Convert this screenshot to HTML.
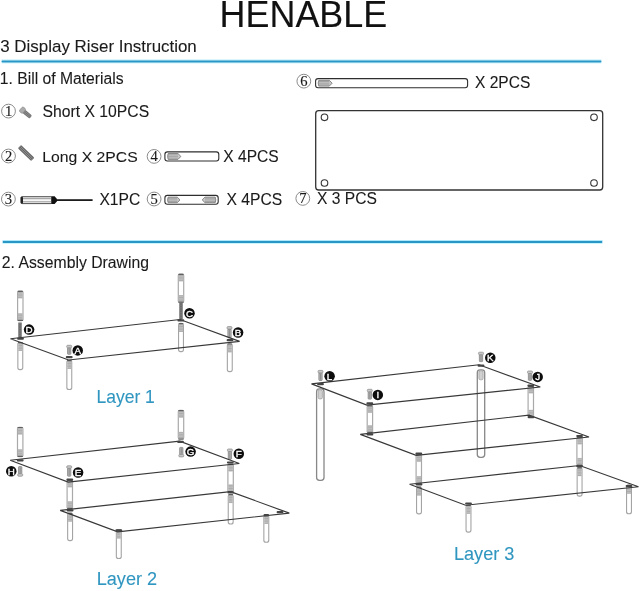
<!DOCTYPE html>
<html><head><meta charset="utf-8"><style>
html,body{margin:0;padding:0;background:#fff;width:640px;height:591px;overflow:hidden}
svg{display:block;will-change:transform}
text{font-family:"Liberation Sans",sans-serif}
</style></head><body>
<svg width="640" height="591" viewBox="0 0 640 591">
<text x="219.55" y="26.80" font-size="36.99" fill="#111" textLength="167.69" lengthAdjust="spacingAndGlyphs" stroke="#111" stroke-width="0.1">HENABLE</text>
<text x="0.26" y="51.60" font-size="16.21" fill="#1a1a1a" textLength="196.54" lengthAdjust="spacingAndGlyphs" stroke="#1a1a1a" stroke-width="0.1">3 Display Riser Instruction</text>
<rect x="1.5" y="59.60" width="600.0" height="1.0" fill="#a6e6fb"/>
<rect x="1.5" y="62.40" width="600.0" height="1.0" fill="#c4f5fd"/>
<rect x="1.5" y="60.60" width="600.0" height="1.8" rx="0.9" fill="#2a96c6"/>
<text x="-0.26" y="83.50" font-size="16.42" fill="#1a1a1a" textLength="123.82" lengthAdjust="spacingAndGlyphs" stroke="#1a1a1a" stroke-width="0.1">1. Bill of Materials</text>
<circle cx="8.50" cy="111.10" r="6.9" fill="none" stroke="#8a8a8a" stroke-width="1"/>
<text x="8.60" y="116.10" style="font-family:'Liberation Serif',serif" font-size="14.6" fill="#1a1a1a" stroke="#1a1a1a" stroke-width="0.15" text-anchor="middle">1</text>
<g transform="translate(25.4,112.6) rotate(40)"><rect x="-2.2" y="-2.1" width="9.2" height="4.2" rx="1.3" fill="#727272"/><line x1="-1.5" y1="-0.75" x2="6.4" y2="-0.75" stroke="#a0a0a0" stroke-width="0.55"/><line x1="-1.5" y1="0.8" x2="6.4" y2="0.8" stroke="#a0a0a0" stroke-width="0.55"/><rect x="-6.0" y="-3.0" width="4.4" height="6.0" rx="1.6" fill="#ababab" stroke="#858585" stroke-width="0.6"/></g>
<text x="42.49" y="116.70" font-size="16.13" fill="#1a1a1a" textLength="106.64" lengthAdjust="spacingAndGlyphs" stroke="#1a1a1a" stroke-width="0.1">Short X 10PCS</text>
<circle cx="8.50" cy="156.00" r="6.9" fill="none" stroke="#8a8a8a" stroke-width="1"/>
<text x="8.60" y="161.00" style="font-family:'Liberation Serif',serif" font-size="14.6" fill="#1a1a1a" stroke="#1a1a1a" stroke-width="0.15" text-anchor="middle">2</text>
<g transform="translate(26.1,153.0) rotate(44)"><rect x="-9.2" y="-2.3" width="18.4" height="4.6" rx="1" fill="#666"/><line x1="-8.6" y1="-0.75" x2="8.6" y2="-0.75" stroke="#aaa" stroke-width="0.6"/><line x1="-8.6" y1="0.85" x2="8.6" y2="0.85" stroke="#aaa" stroke-width="0.6"/></g>
<text x="42.31" y="161.50" font-size="15.41" fill="#1a1a1a" textLength="95.41" lengthAdjust="spacingAndGlyphs" stroke="#1a1a1a" stroke-width="0.1">Long X 2PCS</text>
<circle cx="154.10" cy="156.40" r="6.9" fill="none" stroke="#8a8a8a" stroke-width="1"/>
<text x="154.20" y="161.40" style="font-family:'Liberation Serif',serif" font-size="14.6" fill="#1a1a1a" stroke="#1a1a1a" stroke-width="0.15" text-anchor="middle">4</text>
<rect x="164.9" y="151.9" width="53.9" height="9.1" rx="2.5" fill="#fff" stroke="#2e2e2e" stroke-width="1.1"/>
<path d="M168.2,153.5 L177.95,153.5 L180.9,156.45 L177.95,159.4 L168.2,159.4 Q167.0,156.45 168.2,153.5 Z" fill="#c9c9c9" stroke="#6a6a6a" stroke-width="0.75"/>
<line x1="167.6" y1="154.8" x2="177.9" y2="154.8" stroke="#8c8c8c" stroke-width="0.6"/>
<line x1="167.6" y1="156.4" x2="177.9" y2="156.4" stroke="#8c8c8c" stroke-width="0.6"/>
<line x1="167.6" y1="158.1" x2="177.9" y2="158.1" stroke="#8c8c8c" stroke-width="0.6"/>
<text x="223.25" y="161.60" font-size="15.84" fill="#1a1a1a" textLength="55.47" lengthAdjust="spacingAndGlyphs" stroke="#1a1a1a" stroke-width="0.1">X 4PCS</text>
<circle cx="8.40" cy="199.10" r="6.9" fill="none" stroke="#8a8a8a" stroke-width="1"/>
<text x="8.50" y="204.10" style="font-family:'Liberation Serif',serif" font-size="14.6" fill="#1a1a1a" stroke="#1a1a1a" stroke-width="0.15" text-anchor="middle">3</text>
<rect x="21.2" y="196.7" width="30.6" height="6.9" rx="0.8" fill="#fff" stroke="#3a3a3a" stroke-width="0.9"/>
<rect x="22" y="197.7" width="29.5" height="1.6" fill="#a8a8a8"/><rect x="22" y="200.9" width="29.5" height="1.6" fill="#b4b4b4"/>
<rect x="20.6" y="196.8" width="2.4" height="6.7" rx="1" fill="#222"/>
<path d="M51.4,196.3 L54.6,196.3 L56.8,198.8 L56.8,201.4 L54.6,203.9 L51.4,203.9 Z" fill="#111"/>
<rect x="56" y="199.25" width="36.6" height="1.7" fill="#111"/>
<text x="99.45" y="204.80" font-size="15.84" fill="#1a1a1a" textLength="40.85" lengthAdjust="spacingAndGlyphs" stroke="#1a1a1a" stroke-width="0.1">X1PC</text>
<circle cx="154.10" cy="199.00" r="6.9" fill="none" stroke="#8a8a8a" stroke-width="1"/>
<text x="154.20" y="204.00" style="font-family:'Liberation Serif',serif" font-size="14.6" fill="#1a1a1a" stroke="#1a1a1a" stroke-width="0.15" text-anchor="middle">5</text>
<rect x="164.9" y="195.4" width="53.3" height="8.9" rx="2.5" fill="#fff" stroke="#2e2e2e" stroke-width="1.1"/>
<path d="M168.2,197.1 L177.2,197.1 L180.0,199.89999999999998 L177.2,202.7 L168.2,202.7 Q167.0,199.89999999999998 168.2,197.1 Z" fill="#c9c9c9" stroke="#6a6a6a" stroke-width="0.75"/>
<line x1="167.6" y1="198.3" x2="177.2" y2="198.3" stroke="#8c8c8c" stroke-width="0.6"/>
<line x1="167.6" y1="199.9" x2="177.2" y2="199.9" stroke="#8c8c8c" stroke-width="0.6"/>
<line x1="167.6" y1="201.5" x2="177.2" y2="201.5" stroke="#8c8c8c" stroke-width="0.6"/>
<path d="M215.20000000000002,197.1 L205.0,197.1 L202.2,199.89999999999998 L205.0,202.7 L215.20000000000002,202.7 Q216.4,199.89999999999998 215.20000000000002,197.1 Z" fill="#c9c9c9" stroke="#6a6a6a" stroke-width="0.75"/>
<line x1="205.0" y1="198.3" x2="215.8" y2="198.3" stroke="#8c8c8c" stroke-width="0.6"/>
<line x1="205.0" y1="199.9" x2="215.8" y2="199.9" stroke="#8c8c8c" stroke-width="0.6"/>
<line x1="205.0" y1="201.5" x2="215.8" y2="201.5" stroke="#8c8c8c" stroke-width="0.6"/>
<text x="226.55" y="205.00" font-size="15.99" fill="#1a1a1a" textLength="55.77" lengthAdjust="spacingAndGlyphs" stroke="#1a1a1a" stroke-width="0.1">X 4PCS</text>
<circle cx="303.85" cy="81.15" r="6.9" fill="none" stroke="#8a8a8a" stroke-width="1"/>
<text x="303.95" y="86.15" style="font-family:'Liberation Serif',serif" font-size="14.6" fill="#1a1a1a" stroke="#1a1a1a" stroke-width="0.15" text-anchor="middle">6</text>
<rect x="315.6" y="78.6" width="152.0" height="9.2" rx="2.5" fill="#fff" stroke="#2e2e2e" stroke-width="1.1"/>
<path d="M318.8,80.3 L329.3,80.3 L332.2,83.19999999999999 L329.3,86.1 L318.8,86.1 Q317.6,83.19999999999999 318.8,80.3 Z" fill="#c9c9c9" stroke="#6a6a6a" stroke-width="0.75"/>
<line x1="318.2" y1="81.5" x2="329.3" y2="81.5" stroke="#8c8c8c" stroke-width="0.6"/>
<line x1="318.2" y1="83.2" x2="329.3" y2="83.2" stroke="#8c8c8c" stroke-width="0.6"/>
<line x1="318.2" y1="84.9" x2="329.3" y2="84.9" stroke="#8c8c8c" stroke-width="0.6"/>
<text x="475.05" y="87.60" font-size="15.99" fill="#1a1a1a" textLength="55.26" lengthAdjust="spacingAndGlyphs" stroke="#1a1a1a" stroke-width="0.1">X 2PCS</text>
<rect x="315.7" y="110.7" width="287" height="79.3" rx="3" fill="none" stroke="#333" stroke-width="1.3"/>
<circle cx="324.5" cy="117.3" r="3.3" fill="none" stroke="#333" stroke-width="1.1"/>
<circle cx="594" cy="117.3" r="3.3" fill="none" stroke="#333" stroke-width="1.1"/>
<circle cx="324.5" cy="183" r="3.3" fill="none" stroke="#333" stroke-width="1.1"/>
<circle cx="594" cy="183" r="3.3" fill="none" stroke="#333" stroke-width="1.1"/>
<circle cx="302.80" cy="198.40" r="6.9" fill="none" stroke="#8a8a8a" stroke-width="1"/>
<text x="302.90" y="203.40" style="font-family:'Liberation Serif',serif" font-size="14.6" fill="#1a1a1a" stroke="#1a1a1a" stroke-width="0.15" text-anchor="middle">7</text>
<text x="317.05" y="203.70" font-size="16.13" fill="#1a1a1a" textLength="59.87" lengthAdjust="spacingAndGlyphs" stroke="#1a1a1a" stroke-width="0.1">X 3 PCS</text>
<rect x="2.5" y="240.10" width="600.0" height="1.0" fill="#a6e6fb"/>
<rect x="2.5" y="242.90" width="600.0" height="1.0" fill="#c4f5fd"/>
<rect x="2.5" y="241.10" width="600.0" height="1.8" rx="0.9" fill="#2a96c6"/>
<text x="1.81" y="267.70" font-size="16.72" fill="#1a1a1a" textLength="147.20" lengthAdjust="spacingAndGlyphs" stroke="#1a1a1a" stroke-width="0.1">2. Assembly Drawing</text>
<rect x="17.00" y="290.50" width="6.6" height="30.70" rx="2.0" fill="#a9a9a9"/>
<rect x="18.20" y="291.70" width="4.20" height="28.30" rx="1" fill="#fff"/>
<rect x="18.00" y="291.70" width="4.60" height="6.80" fill="#c6c6c6"/>
<line x1="18.00" y1="292.60" x2="22.60" y2="292.60" stroke="#959595" stroke-width="0.5"/>
<line x1="18.00" y1="294.20" x2="22.60" y2="294.20" stroke="#959595" stroke-width="0.5"/>
<line x1="18.00" y1="295.80" x2="22.60" y2="295.80" stroke="#959595" stroke-width="0.5"/>
<line x1="18.00" y1="297.40" x2="22.60" y2="297.40" stroke="#959595" stroke-width="0.5"/>
<rect x="18.00" y="313.20" width="4.60" height="6.80" fill="#c6c6c6"/>
<line x1="18.00" y1="314.10" x2="22.60" y2="314.10" stroke="#959595" stroke-width="0.5"/>
<line x1="18.00" y1="315.70" x2="22.60" y2="315.70" stroke="#959595" stroke-width="0.5"/>
<line x1="18.00" y1="317.30" x2="22.60" y2="317.30" stroke="#959595" stroke-width="0.5"/>
<line x1="18.00" y1="318.90" x2="22.60" y2="318.90" stroke="#959595" stroke-width="0.5"/>
<rect x="17.60" y="290.70" width="5.40" height="1.2" rx="0.6" fill="#606060"/>
<rect x="17.60" y="319.80" width="5.40" height="1.2" rx="0.6" fill="#606060"/>
<rect x="18.30" y="322.50" width="3.4" height="15.00" fill="#6a6a6a"/>
<line x1="18.30" y1="323.50" x2="21.70" y2="323.50" stroke="#888" stroke-width="0.5"/>
<line x1="18.30" y1="325.20" x2="21.70" y2="325.20" stroke="#888" stroke-width="0.5"/>
<line x1="18.30" y1="326.90" x2="21.70" y2="326.90" stroke="#888" stroke-width="0.5"/>
<line x1="18.30" y1="328.60" x2="21.70" y2="328.60" stroke="#888" stroke-width="0.5"/>
<line x1="18.30" y1="330.30" x2="21.70" y2="330.30" stroke="#888" stroke-width="0.5"/>
<line x1="18.30" y1="332.00" x2="21.70" y2="332.00" stroke="#888" stroke-width="0.5"/>
<line x1="18.30" y1="333.70" x2="21.70" y2="333.70" stroke="#888" stroke-width="0.5"/>
<line x1="18.30" y1="335.40" x2="21.70" y2="335.40" stroke="#888" stroke-width="0.5"/>
<rect x="17.30" y="341.80" width="6.0" height="28.40" rx="2.6" fill="#a4a4a4"/>
<rect x="18.40" y="342.90" width="3.80" height="26.20" rx="1.6" fill="#fff"/>
<rect x="18.30" y="343.00" width="4.00" height="8.00" fill="#c6c6c6"/>
<line x1="18.30" y1="343.90" x2="22.30" y2="343.90" stroke="#959595" stroke-width="0.5"/>
<line x1="18.30" y1="345.50" x2="22.30" y2="345.50" stroke="#959595" stroke-width="0.5"/>
<line x1="18.30" y1="347.10" x2="22.30" y2="347.10" stroke="#959595" stroke-width="0.5"/>
<line x1="18.30" y1="348.70" x2="22.30" y2="348.70" stroke="#959595" stroke-width="0.5"/>
<line x1="18.30" y1="350.30" x2="22.30" y2="350.30" stroke="#959595" stroke-width="0.5"/>
<rect x="17.90" y="342.00" width="4.80" height="1.2" rx="0.6" fill="#606060"/>
<rect x="67.55" y="347.80" width="3.3" height="6.50" rx="0.6" fill="#b5b5b5" stroke="#7a7a7a" stroke-width="0.7"/>
<line x1="69.20" y1="348.60" x2="69.20" y2="353.50" stroke="#8a8a8a" stroke-width="0.9"/>
<rect x="66.70" y="345.30" width="5.0" height="2.5" rx="1" fill="#c8c8c8" stroke="#888" stroke-width="0.7"/>
<rect x="66.30" y="359.80" width="6.0" height="30.20" rx="2.6" fill="#a4a4a4"/>
<rect x="67.40" y="360.90" width="3.80" height="28.00" rx="1.6" fill="#fff"/>
<rect x="67.30" y="361.00" width="4.00" height="8.00" fill="#c6c6c6"/>
<line x1="67.30" y1="361.90" x2="71.30" y2="361.90" stroke="#959595" stroke-width="0.5"/>
<line x1="67.30" y1="363.50" x2="71.30" y2="363.50" stroke="#959595" stroke-width="0.5"/>
<line x1="67.30" y1="365.10" x2="71.30" y2="365.10" stroke="#959595" stroke-width="0.5"/>
<line x1="67.30" y1="366.70" x2="71.30" y2="366.70" stroke="#959595" stroke-width="0.5"/>
<line x1="67.30" y1="368.30" x2="71.30" y2="368.30" stroke="#959595" stroke-width="0.5"/>
<rect x="66.90" y="360.00" width="4.80" height="1.2" rx="0.6" fill="#606060"/>
<rect x="177.70" y="273.50" width="6.6" height="29.50" rx="2.0" fill="#a9a9a9"/>
<rect x="178.90" y="274.70" width="4.20" height="27.10" rx="1" fill="#fff"/>
<rect x="178.70" y="274.70" width="4.60" height="6.80" fill="#c6c6c6"/>
<line x1="178.70" y1="275.60" x2="183.30" y2="275.60" stroke="#959595" stroke-width="0.5"/>
<line x1="178.70" y1="277.20" x2="183.30" y2="277.20" stroke="#959595" stroke-width="0.5"/>
<line x1="178.70" y1="278.80" x2="183.30" y2="278.80" stroke="#959595" stroke-width="0.5"/>
<line x1="178.70" y1="280.40" x2="183.30" y2="280.40" stroke="#959595" stroke-width="0.5"/>
<rect x="178.70" y="295.00" width="4.60" height="6.80" fill="#c6c6c6"/>
<line x1="178.70" y1="295.90" x2="183.30" y2="295.90" stroke="#959595" stroke-width="0.5"/>
<line x1="178.70" y1="297.50" x2="183.30" y2="297.50" stroke="#959595" stroke-width="0.5"/>
<line x1="178.70" y1="299.10" x2="183.30" y2="299.10" stroke="#959595" stroke-width="0.5"/>
<line x1="178.70" y1="300.70" x2="183.30" y2="300.70" stroke="#959595" stroke-width="0.5"/>
<rect x="178.30" y="273.70" width="5.40" height="1.2" rx="0.6" fill="#606060"/>
<rect x="178.30" y="301.60" width="5.40" height="1.2" rx="0.6" fill="#606060"/>
<rect x="179.30" y="303.00" width="3.4" height="16.00" fill="#6a6a6a"/>
<line x1="179.30" y1="304.00" x2="182.70" y2="304.00" stroke="#888" stroke-width="0.5"/>
<line x1="179.30" y1="305.70" x2="182.70" y2="305.70" stroke="#888" stroke-width="0.5"/>
<line x1="179.30" y1="307.40" x2="182.70" y2="307.40" stroke="#888" stroke-width="0.5"/>
<line x1="179.30" y1="309.10" x2="182.70" y2="309.10" stroke="#888" stroke-width="0.5"/>
<line x1="179.30" y1="310.80" x2="182.70" y2="310.80" stroke="#888" stroke-width="0.5"/>
<line x1="179.30" y1="312.50" x2="182.70" y2="312.50" stroke="#888" stroke-width="0.5"/>
<line x1="179.30" y1="314.20" x2="182.70" y2="314.20" stroke="#888" stroke-width="0.5"/>
<line x1="179.30" y1="315.90" x2="182.70" y2="315.90" stroke="#888" stroke-width="0.5"/>
<line x1="179.30" y1="317.60" x2="182.70" y2="317.60" stroke="#888" stroke-width="0.5"/>
<rect x="178.00" y="322.80" width="6.0" height="29.40" rx="2.6" fill="#a4a4a4"/>
<rect x="179.10" y="323.90" width="3.80" height="27.20" rx="1.6" fill="#fff"/>
<rect x="179.00" y="324.00" width="4.00" height="8.00" fill="#c6c6c6"/>
<line x1="179.00" y1="324.90" x2="183.00" y2="324.90" stroke="#959595" stroke-width="0.5"/>
<line x1="179.00" y1="326.50" x2="183.00" y2="326.50" stroke="#959595" stroke-width="0.5"/>
<line x1="179.00" y1="328.10" x2="183.00" y2="328.10" stroke="#959595" stroke-width="0.5"/>
<line x1="179.00" y1="329.70" x2="183.00" y2="329.70" stroke="#959595" stroke-width="0.5"/>
<line x1="179.00" y1="331.30" x2="183.00" y2="331.30" stroke="#959595" stroke-width="0.5"/>
<rect x="178.60" y="323.00" width="4.80" height="1.2" rx="0.6" fill="#606060"/>
<rect x="227.85" y="329.10" width="3.3" height="8.70" rx="0.6" fill="#b5b5b5" stroke="#7a7a7a" stroke-width="0.7"/>
<line x1="229.50" y1="329.90" x2="229.50" y2="337.00" stroke="#8a8a8a" stroke-width="0.9"/>
<rect x="227.00" y="326.60" width="5.0" height="2.5" rx="1" fill="#c8c8c8" stroke="#888" stroke-width="0.7"/>
<rect x="226.80" y="343.20" width="6.0" height="29.00" rx="2.6" fill="#a4a4a4"/>
<rect x="227.90" y="344.30" width="3.80" height="26.80" rx="1.6" fill="#fff"/>
<rect x="227.80" y="344.40" width="4.00" height="8.00" fill="#c6c6c6"/>
<line x1="227.80" y1="345.30" x2="231.80" y2="345.30" stroke="#959595" stroke-width="0.5"/>
<line x1="227.80" y1="346.90" x2="231.80" y2="346.90" stroke="#959595" stroke-width="0.5"/>
<line x1="227.80" y1="348.50" x2="231.80" y2="348.50" stroke="#959595" stroke-width="0.5"/>
<line x1="227.80" y1="350.10" x2="231.80" y2="350.10" stroke="#959595" stroke-width="0.5"/>
<line x1="227.80" y1="351.70" x2="231.80" y2="351.70" stroke="#959595" stroke-width="0.5"/>
<rect x="227.40" y="343.40" width="4.80" height="1.2" rx="0.6" fill="#606060"/>
<polygon points="10.5,338.7 180.0,319.5 239.6,341.4 68.6,360.0" fill="none" stroke="#383838" stroke-width="1.15" stroke-linejoin="miter"/>
<rect x="17.10" y="337.50" width="6.8" height="2.2" rx="1" fill="#444"/>
<rect x="65.80" y="356.10" width="6.8" height="2.2" rx="1" fill="#444"/>
<rect x="177.40" y="319.20" width="6.8" height="2.2" rx="1" fill="#444"/>
<rect x="226.60" y="339.10" width="6.8" height="2.2" rx="1" fill="#444"/>
<circle cx="29.10" cy="329.60" r="5.25" fill="#0d0d0d"/>
<text x="29.10" y="333.00" font-size="9.8" fill="#fff" stroke="#fff" stroke-width="0.35" text-anchor="middle">D</text>
<circle cx="77.75" cy="350.40" r="5.25" fill="#0d0d0d"/>
<text x="77.75" y="353.80" font-size="9.8" fill="#fff" stroke="#fff" stroke-width="0.35" text-anchor="middle">A</text>
<circle cx="189.50" cy="313.20" r="5.25" fill="#0d0d0d"/>
<text x="189.50" y="316.60" font-size="9.8" fill="#fff" stroke="#fff" stroke-width="0.35" text-anchor="middle">C</text>
<circle cx="238.10" cy="332.50" r="5.25" fill="#0d0d0d"/>
<text x="238.10" y="335.90" font-size="9.8" fill="#fff" stroke="#fff" stroke-width="0.35" text-anchor="middle">B</text>
<text x="96.46" y="402.80" font-size="18.60" fill="#3096c0" textLength="58.39" lengthAdjust="spacingAndGlyphs" stroke="#3096c0" stroke-width="0.1">Layer 1</text>
<rect x="16.90" y="426.70" width="6.6" height="30.50" rx="2.0" fill="#a9a9a9"/>
<rect x="18.10" y="427.90" width="4.20" height="28.10" rx="1" fill="#fff"/>
<rect x="17.90" y="427.90" width="4.60" height="6.80" fill="#c6c6c6"/>
<line x1="17.90" y1="428.80" x2="22.50" y2="428.80" stroke="#959595" stroke-width="0.5"/>
<line x1="17.90" y1="430.40" x2="22.50" y2="430.40" stroke="#959595" stroke-width="0.5"/>
<line x1="17.90" y1="432.00" x2="22.50" y2="432.00" stroke="#959595" stroke-width="0.5"/>
<line x1="17.90" y1="433.60" x2="22.50" y2="433.60" stroke="#959595" stroke-width="0.5"/>
<rect x="17.90" y="449.20" width="4.60" height="6.80" fill="#c6c6c6"/>
<line x1="17.90" y1="450.10" x2="22.50" y2="450.10" stroke="#959595" stroke-width="0.5"/>
<line x1="17.90" y1="451.70" x2="22.50" y2="451.70" stroke="#959595" stroke-width="0.5"/>
<line x1="17.90" y1="453.30" x2="22.50" y2="453.30" stroke="#959595" stroke-width="0.5"/>
<line x1="17.90" y1="454.90" x2="22.50" y2="454.90" stroke="#959595" stroke-width="0.5"/>
<rect x="17.50" y="426.90" width="5.40" height="1.2" rx="0.6" fill="#606060"/>
<rect x="17.50" y="455.80" width="5.40" height="1.2" rx="0.6" fill="#606060"/>
<rect x="18.55" y="466.60" width="3.3" height="7.10" rx="0.6" fill="#b5b5b5" stroke="#7a7a7a" stroke-width="0.7"/>
<line x1="20.20" y1="467.40" x2="20.20" y2="472.90" stroke="#8a8a8a" stroke-width="0.9"/>
<rect x="17.70" y="473.70" width="5.0" height="2.5" rx="1" fill="#c8c8c8" stroke="#888" stroke-width="0.7"/>
<rect x="177.70" y="409.80" width="6.6" height="30.00" rx="2.0" fill="#a9a9a9"/>
<rect x="178.90" y="411.00" width="4.20" height="27.60" rx="1" fill="#fff"/>
<rect x="178.70" y="411.00" width="4.60" height="6.80" fill="#c6c6c6"/>
<line x1="178.70" y1="411.90" x2="183.30" y2="411.90" stroke="#959595" stroke-width="0.5"/>
<line x1="178.70" y1="413.50" x2="183.30" y2="413.50" stroke="#959595" stroke-width="0.5"/>
<line x1="178.70" y1="415.10" x2="183.30" y2="415.10" stroke="#959595" stroke-width="0.5"/>
<line x1="178.70" y1="416.70" x2="183.30" y2="416.70" stroke="#959595" stroke-width="0.5"/>
<rect x="178.70" y="431.80" width="4.60" height="6.80" fill="#c6c6c6"/>
<line x1="178.70" y1="432.70" x2="183.30" y2="432.70" stroke="#959595" stroke-width="0.5"/>
<line x1="178.70" y1="434.30" x2="183.30" y2="434.30" stroke="#959595" stroke-width="0.5"/>
<line x1="178.70" y1="435.90" x2="183.30" y2="435.90" stroke="#959595" stroke-width="0.5"/>
<line x1="178.70" y1="437.50" x2="183.30" y2="437.50" stroke="#959595" stroke-width="0.5"/>
<rect x="178.30" y="410.00" width="5.40" height="1.2" rx="0.6" fill="#606060"/>
<rect x="178.30" y="438.40" width="5.40" height="1.2" rx="0.6" fill="#606060"/>
<rect x="179.65" y="447.40" width="3.3" height="7.00" rx="0.6" fill="#b5b5b5" stroke="#7a7a7a" stroke-width="0.7"/>
<line x1="181.30" y1="448.20" x2="181.30" y2="453.60" stroke="#8a8a8a" stroke-width="0.9"/>
<rect x="178.80" y="454.40" width="5.0" height="2.5" rx="1" fill="#c8c8c8" stroke="#888" stroke-width="0.7"/>
<rect x="67.55" y="468.30" width="3.3" height="7.90" rx="0.6" fill="#b5b5b5" stroke="#7a7a7a" stroke-width="0.7"/>
<line x1="69.20" y1="469.10" x2="69.20" y2="475.40" stroke="#8a8a8a" stroke-width="0.9"/>
<rect x="66.70" y="465.80" width="5.0" height="2.5" rx="1" fill="#c8c8c8" stroke="#888" stroke-width="0.7"/>
<rect x="66.50" y="479.50" width="6.6" height="29.70" rx="2.0" fill="#a9a9a9"/>
<rect x="67.70" y="480.70" width="4.20" height="27.30" rx="1" fill="#fff"/>
<rect x="67.50" y="480.70" width="4.60" height="6.80" fill="#c6c6c6"/>
<line x1="67.50" y1="481.60" x2="72.10" y2="481.60" stroke="#959595" stroke-width="0.5"/>
<line x1="67.50" y1="483.20" x2="72.10" y2="483.20" stroke="#959595" stroke-width="0.5"/>
<line x1="67.50" y1="484.80" x2="72.10" y2="484.80" stroke="#959595" stroke-width="0.5"/>
<line x1="67.50" y1="486.40" x2="72.10" y2="486.40" stroke="#959595" stroke-width="0.5"/>
<rect x="67.50" y="501.20" width="4.60" height="6.80" fill="#c6c6c6"/>
<line x1="67.50" y1="502.10" x2="72.10" y2="502.10" stroke="#959595" stroke-width="0.5"/>
<line x1="67.50" y1="503.70" x2="72.10" y2="503.70" stroke="#959595" stroke-width="0.5"/>
<line x1="67.50" y1="505.30" x2="72.10" y2="505.30" stroke="#959595" stroke-width="0.5"/>
<line x1="67.50" y1="506.90" x2="72.10" y2="506.90" stroke="#959595" stroke-width="0.5"/>
<rect x="67.10" y="479.70" width="5.40" height="1.2" rx="0.6" fill="#606060"/>
<rect x="67.10" y="507.80" width="5.40" height="1.2" rx="0.6" fill="#606060"/>
<rect x="67.10" y="512.50" width="6.0" height="28.70" rx="2.6" fill="#a4a4a4"/>
<rect x="68.20" y="513.60" width="3.80" height="26.50" rx="1.6" fill="#fff"/>
<rect x="68.10" y="513.70" width="4.00" height="8.00" fill="#c6c6c6"/>
<line x1="68.10" y1="514.60" x2="72.10" y2="514.60" stroke="#959595" stroke-width="0.5"/>
<line x1="68.10" y1="516.20" x2="72.10" y2="516.20" stroke="#959595" stroke-width="0.5"/>
<line x1="68.10" y1="517.80" x2="72.10" y2="517.80" stroke="#959595" stroke-width="0.5"/>
<line x1="68.10" y1="519.40" x2="72.10" y2="519.40" stroke="#959595" stroke-width="0.5"/>
<line x1="68.10" y1="521.00" x2="72.10" y2="521.00" stroke="#959595" stroke-width="0.5"/>
<rect x="67.70" y="512.70" width="4.80" height="1.2" rx="0.6" fill="#606060"/>
<rect x="227.30" y="463.60" width="6.6" height="28.80" rx="2.0" fill="#a9a9a9"/>
<rect x="228.50" y="464.80" width="4.20" height="26.40" rx="1" fill="#fff"/>
<rect x="228.30" y="464.80" width="4.60" height="6.80" fill="#c6c6c6"/>
<line x1="228.30" y1="465.70" x2="232.90" y2="465.70" stroke="#959595" stroke-width="0.5"/>
<line x1="228.30" y1="467.30" x2="232.90" y2="467.30" stroke="#959595" stroke-width="0.5"/>
<line x1="228.30" y1="468.90" x2="232.90" y2="468.90" stroke="#959595" stroke-width="0.5"/>
<line x1="228.30" y1="470.50" x2="232.90" y2="470.50" stroke="#959595" stroke-width="0.5"/>
<rect x="228.30" y="484.40" width="4.60" height="6.80" fill="#c6c6c6"/>
<line x1="228.30" y1="485.30" x2="232.90" y2="485.30" stroke="#959595" stroke-width="0.5"/>
<line x1="228.30" y1="486.90" x2="232.90" y2="486.90" stroke="#959595" stroke-width="0.5"/>
<line x1="228.30" y1="488.50" x2="232.90" y2="488.50" stroke="#959595" stroke-width="0.5"/>
<line x1="228.30" y1="490.10" x2="232.90" y2="490.10" stroke="#959595" stroke-width="0.5"/>
<rect x="227.90" y="463.80" width="5.40" height="1.2" rx="0.6" fill="#606060"/>
<rect x="227.90" y="491.00" width="5.40" height="1.2" rx="0.6" fill="#606060"/>
<rect x="227.70" y="493.90" width="6.0" height="30.60" rx="2.6" fill="#a4a4a4"/>
<rect x="228.80" y="495.00" width="3.80" height="28.40" rx="1.6" fill="#fff"/>
<rect x="228.70" y="495.10" width="4.00" height="8.00" fill="#c6c6c6"/>
<line x1="228.70" y1="496.00" x2="232.70" y2="496.00" stroke="#959595" stroke-width="0.5"/>
<line x1="228.70" y1="497.60" x2="232.70" y2="497.60" stroke="#959595" stroke-width="0.5"/>
<line x1="228.70" y1="499.20" x2="232.70" y2="499.20" stroke="#959595" stroke-width="0.5"/>
<line x1="228.70" y1="500.80" x2="232.70" y2="500.80" stroke="#959595" stroke-width="0.5"/>
<line x1="228.70" y1="502.40" x2="232.70" y2="502.40" stroke="#959595" stroke-width="0.5"/>
<rect x="228.30" y="494.10" width="4.80" height="1.2" rx="0.6" fill="#606060"/>
<rect x="115.80" y="529.40" width="6.0" height="29.60" rx="2.6" fill="#a4a4a4"/>
<rect x="116.90" y="530.50" width="3.80" height="27.40" rx="1.6" fill="#fff"/>
<rect x="116.80" y="530.60" width="4.00" height="8.00" fill="#c6c6c6"/>
<line x1="116.80" y1="531.50" x2="120.80" y2="531.50" stroke="#959595" stroke-width="0.5"/>
<line x1="116.80" y1="533.10" x2="120.80" y2="533.10" stroke="#959595" stroke-width="0.5"/>
<line x1="116.80" y1="534.70" x2="120.80" y2="534.70" stroke="#959595" stroke-width="0.5"/>
<line x1="116.80" y1="536.30" x2="120.80" y2="536.30" stroke="#959595" stroke-width="0.5"/>
<line x1="116.80" y1="537.90" x2="120.80" y2="537.90" stroke="#959595" stroke-width="0.5"/>
<rect x="116.40" y="529.60" width="4.80" height="1.2" rx="0.6" fill="#606060"/>
<rect x="263.30" y="514.80" width="6.0" height="28.00" rx="2.6" fill="#a4a4a4"/>
<rect x="264.40" y="515.90" width="3.80" height="25.80" rx="1.6" fill="#fff"/>
<rect x="264.30" y="516.00" width="4.00" height="8.00" fill="#c6c6c6"/>
<line x1="264.30" y1="516.90" x2="268.30" y2="516.90" stroke="#959595" stroke-width="0.5"/>
<line x1="264.30" y1="518.50" x2="268.30" y2="518.50" stroke="#959595" stroke-width="0.5"/>
<line x1="264.30" y1="520.10" x2="268.30" y2="520.10" stroke="#959595" stroke-width="0.5"/>
<line x1="264.30" y1="521.70" x2="268.30" y2="521.70" stroke="#959595" stroke-width="0.5"/>
<line x1="264.30" y1="523.30" x2="268.30" y2="523.30" stroke="#959595" stroke-width="0.5"/>
<rect x="263.90" y="515.00" width="4.80" height="1.2" rx="0.6" fill="#606060"/>
<rect x="228.25" y="451.50" width="3.3" height="7.70" rx="0.6" fill="#b5b5b5" stroke="#7a7a7a" stroke-width="0.7"/>
<line x1="229.90" y1="452.30" x2="229.90" y2="458.40" stroke="#8a8a8a" stroke-width="0.9"/>
<rect x="227.40" y="449.00" width="5.0" height="2.5" rx="1" fill="#c8c8c8" stroke="#888" stroke-width="0.7"/>
<polygon points="10.2,460.3 179.6,441.1 239.3,463.5 68.2,482.1" fill="none" stroke="#383838" stroke-width="1.15" stroke-linejoin="miter"/>
<polygon points="60.2,510.4 230.5,491.7 289.3,513.1 117.7,531.9" fill="none" stroke="#383838" stroke-width="1.15" stroke-linejoin="miter"/>
<rect x="16.80" y="459.20" width="6.8" height="2.2" rx="1" fill="#444"/>
<rect x="66.40" y="478.50" width="6.8" height="2.2" rx="1" fill="#444"/>
<rect x="177.10" y="440.80" width="6.8" height="2.2" rx="1" fill="#444"/>
<rect x="226.90" y="461.40" width="6.8" height="2.2" rx="1" fill="#444"/>
<rect x="66.70" y="509.30" width="6.8" height="2.2" rx="1" fill="#444"/>
<rect x="115.40" y="529.20" width="6.8" height="2.2" rx="1" fill="#444"/>
<rect x="227.40" y="491.40" width="6.8" height="2.2" rx="1" fill="#444"/>
<rect x="276.60" y="511.10" width="6.8" height="2.2" rx="1" fill="#444"/>
<rect x="263.55" y="514.10" width="5.5" height="2.2" rx="1" fill="#444"/>
<circle cx="11.25" cy="471.25" r="5.25" fill="#0d0d0d"/>
<text x="11.25" y="474.65" font-size="9.8" fill="#fff" stroke="#fff" stroke-width="0.35" text-anchor="middle">H</text>
<circle cx="78.10" cy="472.50" r="5.25" fill="#0d0d0d"/>
<text x="78.10" y="475.90" font-size="9.8" fill="#fff" stroke="#fff" stroke-width="0.35" text-anchor="middle">E</text>
<circle cx="190.60" cy="451.60" r="5.25" fill="#0d0d0d"/>
<text x="190.60" y="455.00" font-size="9.8" fill="#fff" stroke="#fff" stroke-width="0.35" text-anchor="middle">G</text>
<circle cx="238.80" cy="453.80" r="5.25" fill="#0d0d0d"/>
<text x="238.80" y="457.20" font-size="9.8" fill="#fff" stroke="#fff" stroke-width="0.35" text-anchor="middle">F</text>
<text x="96.71" y="584.90" font-size="18.46" fill="#3096c0" textLength="60.40" lengthAdjust="spacingAndGlyphs" stroke="#3096c0" stroke-width="0.1">Layer 2</text>
<rect x="316.60" y="388.90" width="7.4" height="91.50" rx="2.8" fill="#fff" stroke="#888" stroke-width="1.3"/>
<rect x="318.20" y="389.90" width="4.20" height="9.0" rx="1.4" fill="#d0d0d0" stroke="#999" stroke-width="0.7"/>
<rect x="477.30" y="369.80" width="7.4" height="87.50" rx="2.8" fill="#fff" stroke="#888" stroke-width="1.3"/>
<rect x="478.90" y="370.80" width="4.20" height="9.0" rx="1.4" fill="#d0d0d0" stroke="#999" stroke-width="0.7"/>
<rect x="318.85" y="372.90" width="3.3" height="7.60" rx="0.6" fill="#b5b5b5" stroke="#7a7a7a" stroke-width="0.7"/>
<line x1="320.50" y1="373.70" x2="320.50" y2="379.70" stroke="#8a8a8a" stroke-width="0.9"/>
<rect x="318.00" y="370.40" width="5.0" height="2.5" rx="1" fill="#c8c8c8" stroke="#888" stroke-width="0.7"/>
<rect x="368.15" y="391.80" width="3.3" height="7.30" rx="0.6" fill="#b5b5b5" stroke="#7a7a7a" stroke-width="0.7"/>
<line x1="369.80" y1="392.60" x2="369.80" y2="398.30" stroke="#8a8a8a" stroke-width="0.9"/>
<rect x="367.30" y="389.30" width="5.0" height="2.5" rx="1" fill="#c8c8c8" stroke="#888" stroke-width="0.7"/>
<rect x="479.35" y="354.70" width="3.3" height="6.90" rx="0.6" fill="#b5b5b5" stroke="#7a7a7a" stroke-width="0.7"/>
<line x1="481.00" y1="355.50" x2="481.00" y2="360.80" stroke="#8a8a8a" stroke-width="0.9"/>
<rect x="478.50" y="352.20" width="5.0" height="2.5" rx="1" fill="#c8c8c8" stroke="#888" stroke-width="0.7"/>
<rect x="528.35" y="373.50" width="3.3" height="6.80" rx="0.6" fill="#b5b5b5" stroke="#7a7a7a" stroke-width="0.7"/>
<line x1="530.00" y1="374.30" x2="530.00" y2="379.50" stroke="#8a8a8a" stroke-width="0.9"/>
<rect x="527.50" y="371.00" width="5.0" height="2.5" rx="1" fill="#c8c8c8" stroke="#888" stroke-width="0.7"/>
<rect x="366.60" y="405.00" width="6.6" height="28.20" rx="2.0" fill="#a9a9a9"/>
<rect x="367.80" y="406.20" width="4.20" height="25.80" rx="1" fill="#fff"/>
<rect x="367.60" y="406.20" width="4.60" height="6.80" fill="#c6c6c6"/>
<line x1="367.60" y1="407.10" x2="372.20" y2="407.10" stroke="#959595" stroke-width="0.5"/>
<line x1="367.60" y1="408.70" x2="372.20" y2="408.70" stroke="#959595" stroke-width="0.5"/>
<line x1="367.60" y1="410.30" x2="372.20" y2="410.30" stroke="#959595" stroke-width="0.5"/>
<line x1="367.60" y1="411.90" x2="372.20" y2="411.90" stroke="#959595" stroke-width="0.5"/>
<rect x="367.60" y="425.20" width="4.60" height="6.80" fill="#c6c6c6"/>
<line x1="367.60" y1="426.10" x2="372.20" y2="426.10" stroke="#959595" stroke-width="0.5"/>
<line x1="367.60" y1="427.70" x2="372.20" y2="427.70" stroke="#959595" stroke-width="0.5"/>
<line x1="367.60" y1="429.30" x2="372.20" y2="429.30" stroke="#959595" stroke-width="0.5"/>
<line x1="367.60" y1="430.90" x2="372.20" y2="430.90" stroke="#959595" stroke-width="0.5"/>
<rect x="367.20" y="405.20" width="5.40" height="1.2" rx="0.6" fill="#606060"/>
<rect x="367.20" y="431.80" width="5.40" height="1.2" rx="0.6" fill="#606060"/>
<rect x="527.50" y="385.50" width="6.6" height="32.30" rx="2.0" fill="#a9a9a9"/>
<rect x="528.70" y="386.70" width="4.20" height="29.90" rx="1" fill="#fff"/>
<rect x="528.50" y="386.70" width="4.60" height="6.80" fill="#c6c6c6"/>
<line x1="528.50" y1="387.60" x2="533.10" y2="387.60" stroke="#959595" stroke-width="0.5"/>
<line x1="528.50" y1="389.20" x2="533.10" y2="389.20" stroke="#959595" stroke-width="0.5"/>
<line x1="528.50" y1="390.80" x2="533.10" y2="390.80" stroke="#959595" stroke-width="0.5"/>
<line x1="528.50" y1="392.40" x2="533.10" y2="392.40" stroke="#959595" stroke-width="0.5"/>
<rect x="528.50" y="409.80" width="4.60" height="6.80" fill="#c6c6c6"/>
<line x1="528.50" y1="410.70" x2="533.10" y2="410.70" stroke="#959595" stroke-width="0.5"/>
<line x1="528.50" y1="412.30" x2="533.10" y2="412.30" stroke="#959595" stroke-width="0.5"/>
<line x1="528.50" y1="413.90" x2="533.10" y2="413.90" stroke="#959595" stroke-width="0.5"/>
<line x1="528.50" y1="415.50" x2="533.10" y2="415.50" stroke="#959595" stroke-width="0.5"/>
<rect x="528.10" y="385.70" width="5.40" height="1.2" rx="0.6" fill="#606060"/>
<rect x="528.10" y="416.40" width="5.40" height="1.2" rx="0.6" fill="#606060"/>
<rect x="415.50" y="453.90" width="6.6" height="30.20" rx="2.0" fill="#a9a9a9"/>
<rect x="416.70" y="455.10" width="4.20" height="27.80" rx="1" fill="#fff"/>
<rect x="416.50" y="455.10" width="4.60" height="6.80" fill="#c6c6c6"/>
<line x1="416.50" y1="456.00" x2="421.10" y2="456.00" stroke="#959595" stroke-width="0.5"/>
<line x1="416.50" y1="457.60" x2="421.10" y2="457.60" stroke="#959595" stroke-width="0.5"/>
<line x1="416.50" y1="459.20" x2="421.10" y2="459.20" stroke="#959595" stroke-width="0.5"/>
<line x1="416.50" y1="460.80" x2="421.10" y2="460.80" stroke="#959595" stroke-width="0.5"/>
<rect x="416.50" y="476.10" width="4.60" height="6.80" fill="#c6c6c6"/>
<line x1="416.50" y1="477.00" x2="421.10" y2="477.00" stroke="#959595" stroke-width="0.5"/>
<line x1="416.50" y1="478.60" x2="421.10" y2="478.60" stroke="#959595" stroke-width="0.5"/>
<line x1="416.50" y1="480.20" x2="421.10" y2="480.20" stroke="#959595" stroke-width="0.5"/>
<line x1="416.50" y1="481.80" x2="421.10" y2="481.80" stroke="#959595" stroke-width="0.5"/>
<rect x="416.10" y="454.10" width="5.40" height="1.2" rx="0.6" fill="#606060"/>
<rect x="416.10" y="482.70" width="5.40" height="1.2" rx="0.6" fill="#606060"/>
<rect x="416.00" y="486.40" width="6.0" height="28.00" rx="2.6" fill="#a4a4a4"/>
<rect x="417.10" y="487.50" width="3.80" height="25.80" rx="1.6" fill="#fff"/>
<rect x="417.00" y="487.60" width="4.00" height="8.00" fill="#c6c6c6"/>
<line x1="417.00" y1="488.50" x2="421.00" y2="488.50" stroke="#959595" stroke-width="0.5"/>
<line x1="417.00" y1="490.10" x2="421.00" y2="490.10" stroke="#959595" stroke-width="0.5"/>
<line x1="417.00" y1="491.70" x2="421.00" y2="491.70" stroke="#959595" stroke-width="0.5"/>
<line x1="417.00" y1="493.30" x2="421.00" y2="493.30" stroke="#959595" stroke-width="0.5"/>
<line x1="417.00" y1="494.90" x2="421.00" y2="494.90" stroke="#959595" stroke-width="0.5"/>
<rect x="416.60" y="486.60" width="4.80" height="1.2" rx="0.6" fill="#606060"/>
<rect x="576.30" y="436.50" width="6.6" height="29.40" rx="2.0" fill="#a9a9a9"/>
<rect x="577.50" y="437.70" width="4.20" height="27.00" rx="1" fill="#fff"/>
<rect x="577.30" y="437.70" width="4.60" height="6.80" fill="#c6c6c6"/>
<line x1="577.30" y1="438.60" x2="581.90" y2="438.60" stroke="#959595" stroke-width="0.5"/>
<line x1="577.30" y1="440.20" x2="581.90" y2="440.20" stroke="#959595" stroke-width="0.5"/>
<line x1="577.30" y1="441.80" x2="581.90" y2="441.80" stroke="#959595" stroke-width="0.5"/>
<line x1="577.30" y1="443.40" x2="581.90" y2="443.40" stroke="#959595" stroke-width="0.5"/>
<rect x="577.30" y="457.90" width="4.60" height="6.80" fill="#c6c6c6"/>
<line x1="577.30" y1="458.80" x2="581.90" y2="458.80" stroke="#959595" stroke-width="0.5"/>
<line x1="577.30" y1="460.40" x2="581.90" y2="460.40" stroke="#959595" stroke-width="0.5"/>
<line x1="577.30" y1="462.00" x2="581.90" y2="462.00" stroke="#959595" stroke-width="0.5"/>
<line x1="577.30" y1="463.60" x2="581.90" y2="463.60" stroke="#959595" stroke-width="0.5"/>
<rect x="576.90" y="436.70" width="5.40" height="1.2" rx="0.6" fill="#606060"/>
<rect x="576.90" y="464.50" width="5.40" height="1.2" rx="0.6" fill="#606060"/>
<rect x="576.60" y="467.00" width="6.0" height="29.70" rx="2.6" fill="#a4a4a4"/>
<rect x="577.70" y="468.10" width="3.80" height="27.50" rx="1.6" fill="#fff"/>
<rect x="577.60" y="468.20" width="4.00" height="8.00" fill="#c6c6c6"/>
<line x1="577.60" y1="469.10" x2="581.60" y2="469.10" stroke="#959595" stroke-width="0.5"/>
<line x1="577.60" y1="470.70" x2="581.60" y2="470.70" stroke="#959595" stroke-width="0.5"/>
<line x1="577.60" y1="472.30" x2="581.60" y2="472.30" stroke="#959595" stroke-width="0.5"/>
<line x1="577.60" y1="473.90" x2="581.60" y2="473.90" stroke="#959595" stroke-width="0.5"/>
<line x1="577.60" y1="475.50" x2="581.60" y2="475.50" stroke="#959595" stroke-width="0.5"/>
<rect x="577.20" y="467.20" width="4.80" height="1.2" rx="0.6" fill="#606060"/>
<rect x="465.50" y="504.70" width="6.0" height="28.00" rx="2.6" fill="#a4a4a4"/>
<rect x="466.60" y="505.80" width="3.80" height="25.80" rx="1.6" fill="#fff"/>
<rect x="466.50" y="505.90" width="4.00" height="8.00" fill="#c6c6c6"/>
<line x1="466.50" y1="506.80" x2="470.50" y2="506.80" stroke="#959595" stroke-width="0.5"/>
<line x1="466.50" y1="508.40" x2="470.50" y2="508.40" stroke="#959595" stroke-width="0.5"/>
<line x1="466.50" y1="510.00" x2="470.50" y2="510.00" stroke="#959595" stroke-width="0.5"/>
<line x1="466.50" y1="511.60" x2="470.50" y2="511.60" stroke="#959595" stroke-width="0.5"/>
<line x1="466.50" y1="513.20" x2="470.50" y2="513.20" stroke="#959595" stroke-width="0.5"/>
<rect x="466.10" y="504.90" width="4.80" height="1.2" rx="0.6" fill="#606060"/>
<rect x="626.00" y="484.60" width="6.0" height="29.70" rx="2.6" fill="#a4a4a4"/>
<rect x="627.10" y="485.70" width="3.80" height="27.50" rx="1.6" fill="#fff"/>
<rect x="627.00" y="485.80" width="4.00" height="8.00" fill="#c6c6c6"/>
<line x1="627.00" y1="486.70" x2="631.00" y2="486.70" stroke="#959595" stroke-width="0.5"/>
<line x1="627.00" y1="488.30" x2="631.00" y2="488.30" stroke="#959595" stroke-width="0.5"/>
<line x1="627.00" y1="489.90" x2="631.00" y2="489.90" stroke="#959595" stroke-width="0.5"/>
<line x1="627.00" y1="491.50" x2="631.00" y2="491.50" stroke="#959595" stroke-width="0.5"/>
<line x1="627.00" y1="493.10" x2="631.00" y2="493.10" stroke="#959595" stroke-width="0.5"/>
<rect x="626.60" y="484.80" width="4.80" height="1.2" rx="0.6" fill="#606060"/>
<polygon points="311.5,383.9 479.0,364.8 540.3,387.0 366.9,405.1" fill="none" stroke="#383838" stroke-width="1.15" stroke-linejoin="miter"/>
<polygon points="360.3,434.4 529.0,415.1 589.0,437.0 416.2,455.4" fill="none" stroke="#383838" stroke-width="1.15" stroke-linejoin="miter"/>
<polygon points="409.6,484.2 579.6,465.5 638.5,486.8 465.6,505.2" fill="none" stroke="#383838" stroke-width="1.15" stroke-linejoin="miter"/>
<rect x="317.10" y="383.10" width="6.8" height="2.2" rx="1" fill="#444"/>
<rect x="366.40" y="402.20" width="6.8" height="2.2" rx="1" fill="#444"/>
<rect x="477.60" y="364.50" width="6.8" height="2.2" rx="1" fill="#444"/>
<rect x="527.40" y="384.50" width="6.8" height="2.2" rx="1" fill="#444"/>
<rect x="366.50" y="433.20" width="6.8" height="2.2" rx="1" fill="#444"/>
<rect x="415.40" y="452.40" width="6.8" height="2.2" rx="1" fill="#444"/>
<rect x="527.60" y="416.10" width="6.8" height="2.2" rx="1" fill="#444"/>
<rect x="576.20" y="434.90" width="6.8" height="2.2" rx="1" fill="#444"/>
<rect x="415.60" y="483.20" width="6.8" height="2.2" rx="1" fill="#444"/>
<rect x="465.10" y="502.40" width="6.8" height="2.2" rx="1" fill="#444"/>
<rect x="576.20" y="465.10" width="6.8" height="2.2" rx="1" fill="#444"/>
<rect x="625.60" y="484.90" width="6.8" height="2.2" rx="1" fill="#444"/>
<circle cx="329.60" cy="376.30" r="5.25" fill="#0d0d0d"/>
<text x="329.60" y="379.70" font-size="9.8" fill="#fff" stroke="#fff" stroke-width="0.35" text-anchor="middle">L</text>
<circle cx="377.80" cy="394.90" r="5.25" fill="#0d0d0d"/>
<text x="377.80" y="398.30" font-size="9.8" fill="#fff" stroke="#fff" stroke-width="0.35" text-anchor="middle">I</text>
<circle cx="490.30" cy="357.80" r="5.25" fill="#0d0d0d"/>
<text x="490.30" y="361.20" font-size="9.8" fill="#fff" stroke="#fff" stroke-width="0.35" text-anchor="middle">K</text>
<circle cx="537.70" cy="376.90" r="5.25" fill="#0d0d0d"/>
<text x="537.70" y="380.30" font-size="9.8" fill="#fff" stroke="#fff" stroke-width="0.35" text-anchor="middle">J</text>
<text x="453.91" y="560.10" font-size="18.17" fill="#3096c0" textLength="60.48" lengthAdjust="spacingAndGlyphs" stroke="#3096c0" stroke-width="0.1">Layer 3</text>
</svg>
</body></html>
